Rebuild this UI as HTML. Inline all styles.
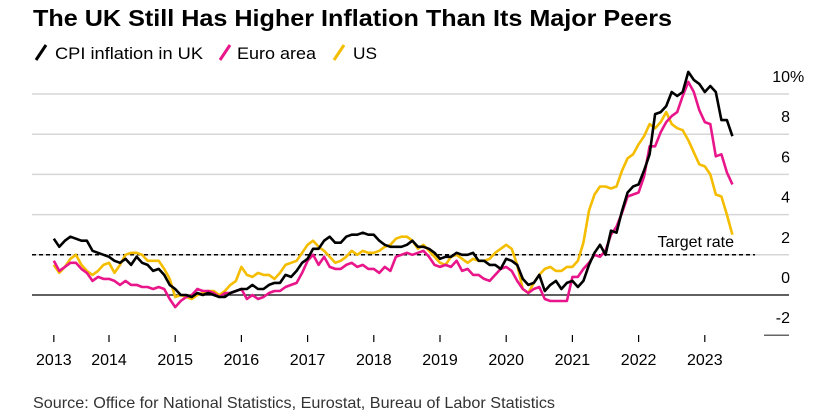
<!DOCTYPE html>
<html><head><meta charset="utf-8"><style>
body{margin:0;background:#fff;font-family:"Liberation Sans",Arial,sans-serif;}
#wrap{position:relative;width:816px;height:417px;overflow:hidden;}
</style></head><body>
<div id="wrap">
<svg id="chart" width="816" height="417">
<text x="33" y="26" font-size="23" font-weight="bold" fill="#000" textLength="639" lengthAdjust="spacingAndGlyphs">The UK Still Has Higher Inflation Than Its Major Peers</text>
<g>
<line x1="36" y1="60" x2="46" y2="45" stroke="#000" stroke-width="3"/>
<text x="55" y="59" font-size="17" fill="#000" textLength="148" lengthAdjust="spacingAndGlyphs">CPI inflation in UK</text>
<line x1="220" y1="60" x2="230" y2="45" stroke="#e8168a" stroke-width="3"/>
<text x="237" y="59" font-size="17" fill="#000" textLength="79" lengthAdjust="spacingAndGlyphs">Euro area</text>
<line x1="334" y1="60" x2="344" y2="45" stroke="#f5bd00" stroke-width="3"/>
<text x="353" y="59" font-size="17" fill="#000" textLength="24" lengthAdjust="spacingAndGlyphs">US</text>
</g>
<g id="grid"></g>
<g id="series"></g>
<text x="33" y="408" font-size="16" fill="#333" textLength="522" lengthAdjust="spacingAndGlyphs">Source: Office for National Statistics, Eurostat, Bureau of Labor Statistics</text>
</svg>
</div>
<script>
const yTicks=[10,8,6,4,2,0,-2];
const yearTicks=[2013,2014,2015,2016,2017,2018,2019,2020,2021,2022,2023];
const targetRate=2;
const startYear=2013, startMonth=2; // March 2013 (0-based month)
const ukCPI=[2.8,2.4,2.7,2.9,2.8,2.7,2.7,2.2,2.1,2.0,
1.9,1.7,1.6,1.8,1.5,1.9,1.6,1.5,1.2,1.3,1.0,0.5,
0.3,0.0,0.0,-0.1,0.1,0.0,0.1,0.0,-0.1,-0.1,0.1,0.2,
0.3,0.3,0.5,0.3,0.3,0.5,0.6,0.6,1.0,0.9,1.2,1.6,
1.8,2.3,2.3,2.7,2.9,2.6,2.6,2.9,3.0,3.0,3.1,3.0,
3.0,2.7,2.5,2.4,2.4,2.4,2.5,2.7,2.4,2.4,2.3,2.1,
1.8,1.9,1.9,2.1,2.0,2.0,2.1,1.7,1.7,1.5,1.5,1.3,
1.8,1.7,1.5,0.8,0.5,0.6,1.0,0.2,0.5,0.7,0.3,0.6,
0.7,0.4,0.7,1.5,2.1,2.5,2.0,3.2,3.1,4.2,5.1,5.4,
5.5,6.2,7.0,9.0,9.1,9.4,10.1,9.9,10.1,11.1,10.7,10.5,
10.1,10.4,10.1,8.7,8.7,7.9];
const euroHICP=[1.7,1.2,1.4,1.6,1.6,1.3,1.1,0.7,0.9,0.8,
0.8,0.7,0.5,0.7,0.5,0.5,0.4,0.4,0.3,0.4,0.3,-0.2,
-0.6,-0.3,-0.1,0.0,0.3,0.2,0.2,0.1,-0.1,0.1,0.1,0.2,
0.3,-0.2,0.0,-0.2,-0.1,0.1,0.2,0.2,0.4,0.5,0.6,1.1,
1.7,2.0,1.5,1.9,1.4,1.3,1.3,1.5,1.6,1.4,1.5,1.3,
1.3,1.1,1.4,1.2,1.9,2.0,2.1,2.0,2.1,2.2,1.9,1.5,
1.4,1.5,1.4,1.7,1.2,1.3,1.0,1.0,0.8,0.7,1.0,1.3,
1.4,1.2,0.7,0.3,0.1,0.3,0.4,-0.2,-0.3,-0.3,-0.3,-0.3,
0.9,0.9,1.3,1.6,2.0,1.9,2.2,3.0,3.4,4.1,4.9,5.0,
5.1,5.9,7.4,7.4,8.1,8.6,8.9,9.1,9.9,10.6,10.1,9.2,
8.6,8.5,6.9,7.0,6.1,5.5];
const usCPI=[1.5,1.1,1.4,1.8,2.0,1.5,1.2,1.0,1.2,1.5,
1.6,1.1,1.5,2.0,2.1,2.1,2.0,1.7,1.7,1.7,1.3,0.8,
-0.1,0.0,-0.1,-0.2,0.0,0.1,0.2,0.2,0.0,0.2,0.5,0.7,
1.4,1.0,0.9,1.1,1.0,1.0,0.8,1.1,1.5,1.6,1.7,2.1,
2.5,2.7,2.4,2.2,1.9,1.6,1.7,1.9,2.2,2.0,2.2,2.1,
2.1,2.2,2.4,2.5,2.8,2.9,2.9,2.7,2.3,2.5,2.2,1.9,
1.6,1.5,1.9,2.0,1.8,1.6,1.8,1.7,1.7,1.8,2.1,2.3,
2.5,2.3,1.5,0.3,0.1,0.6,1.0,1.3,1.4,1.2,1.2,1.4,
1.4,1.7,2.6,4.2,5.0,5.4,5.4,5.3,5.4,6.2,6.8,7.0,
7.5,7.9,8.5,8.3,8.6,9.1,8.5,8.3,8.2,7.7,7.1,6.5,
6.4,6.0,5.0,4.9,4.0,3.0];

const NS='http://www.w3.org/2000/svg';
function xScale(t){return 109+(t-2014)*66.2;}
function yScale(v){return 295-v*20.1;}
function mk(tag,attrs,parent){const e=document.createElementNS(NS,tag);for(const k in attrs)e.setAttribute(k,attrs[k]);parent.appendChild(e);return e;}
const grid=document.getElementById('grid');
yTicks.forEach(v=>{
  const y=yScale(v);
  let x1=32;
  if(v===-2)x1=764;
  const ln=mk('line',{x1:x1,x2:789,y1:y,y2:y,stroke:v===0?'#000':(v===-2?'#666':'#d6d6d6'),'stroke-width':v===0?1.2:1.5},grid);
  
  
  const t=mk('text',{x:790,y:y-12,'font-size':16,fill:'#000','text-anchor':'end'},grid);
  t.textContent=String(v);
  
  
  if(v===10){const p=mk('text',{x:790,y:y-12,'font-size':16,fill:'#000'},grid);p.textContent='%';
    
    }
});
yearTicks.forEach(yr=>{
  const x=yr===2013?xScale(startYear+startMonth/12):xScale(yr);
  const tk=mk('line',{x1:x,x2:x,y1:335,y2:342,stroke:'#000','stroke-width':1.2},grid);
  
  
  const t=mk('text',{x:x,y:365,'font-size':16,fill:'#000','text-anchor':'middle'},grid);
  t.textContent=yr;
  
  
});
const tgt=mk('line',{x1:32,x2:755,y1:yScale(targetRate),y2:yScale(targetRate),stroke:'#000','stroke-width':1.5,'stroke-dasharray':'4,3'},grid);


const tl=mk('text',{x:734,y:yScale(targetRate)-8,'font-size':16,fill:'#000','text-anchor':'end'},grid);
tl.textContent='Target rate';



const ser=document.getElementById('series');
function drawLine(arr,color,name){
  const pts=arr.map((v,i)=>{const t=startYear+(startMonth+i)/12;return xScale(t).toFixed(1)+','+yScale(v).toFixed(1);}).join(' ');
  const pl=mk('polyline',{points:pts,fill:'none',stroke:color,'stroke-width':2.6,'stroke-linejoin':'round'},ser);
  
  
}
drawLine(usCPI,'#f5bd00','us-line');
drawLine(euroHICP,'#e8168a','euro-area-line');
drawLine(ukCPI,'#000','uk-line');
</script>
</body></html>
